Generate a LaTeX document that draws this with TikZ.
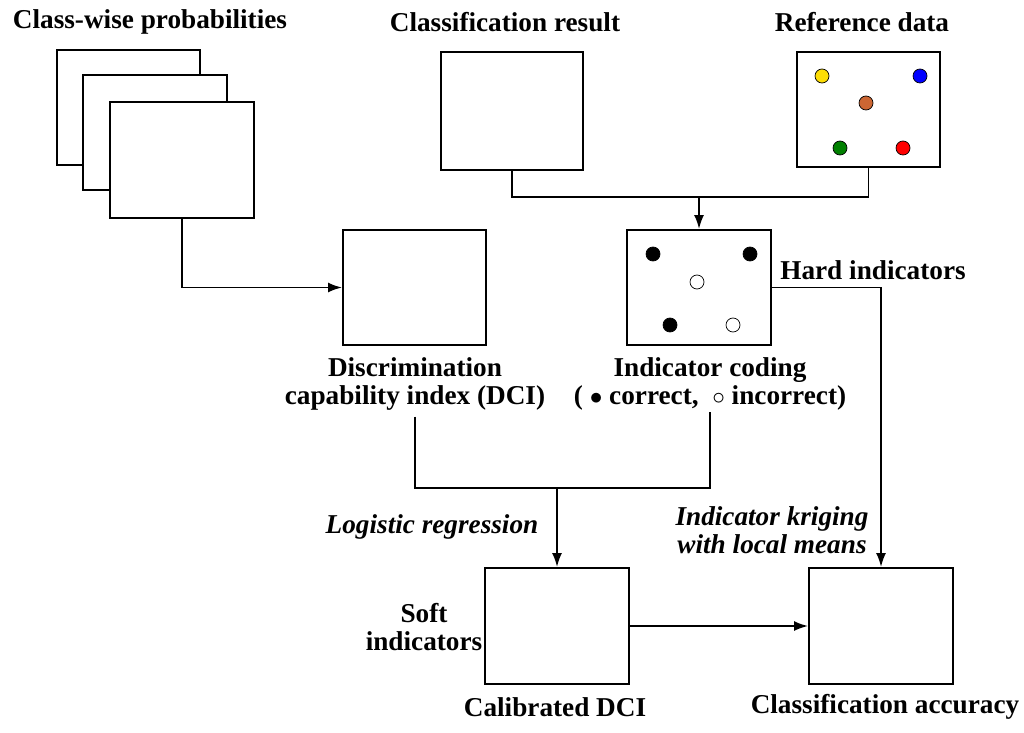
\documentclass[tikz,border=0pt]{standalone}
\usepackage{fontspec}
\setmainfont{Liberation Serif}
\usetikzlibrary{positioning, arrows.meta}
\tikzset{
  box/.style = {draw, line width=1.1pt, fill=white, inner sep=0pt},
  lbl/.style = {font=\fontsize{15.5}{16}\selectfont\bfseries, align=center},
  ilbl/.style = {font=\fontsize{15.5}{16}\selectfont\bfseries\itshape, align=center},
  dot/.style = {circle, draw, inner sep=0pt, minimum size=.28cm},
  arr/.style = {line width=1.1pt, -{Latex[length=.28cm, width=.2cm]}},
  ln/.style = {line width=1.1pt}
}
\begin{document}
\begin{tikzpicture}[x=.02cm, y=-.02cm]
		\useasboundingbox (0,0) rectangle (1024,733);
		% stacked probability maps
		\node [box, minimum width=2.86cm, minimum height=2.3cm] (p3) at (128.5,107.5) {};
		\node [box, minimum width=2.88cm, minimum height=2.3cm] (p2) at (155,132.5) {};
		\node [box, minimum width=2.88cm, minimum height=2.32cm] (p1) at (182,160) {};
		\node [lbl] (tp) at (150,22) {Class-wise probabilities};
		% inputs
		\node [box, minimum width=2.84cm, minimum height=2.36cm] (cr) at (512,111) {};
		\node [lbl] (tcr) at (505,22) {Classification result};
		\node [box, minimum width=2.86cm, minimum height=2.3cm] (rd) at (868.5,109.5) {};
		\node [lbl] (trd) at (862,22) {Reference data};
		\node [dot, fill=yellow!80!orange] (r1) at (822,76) {};
		\node [dot, fill=blue] (r2) at (920,76) {};
		\node [dot, fill=brown!80!red] (r3) at (866,103) {};
		\node [dot, fill=green!50!black] (r4) at (840,148) {};
		\node [dot, fill=red] (r5) at (903,148) {};
		% intermediate boxes
		\node [box, minimum width=2.86cm, minimum height=2.3cm] (dci) at (414.5,287.5) {};
		\node [lbl] (tdci) at (415,384) {Discrimination\\capability index (DCI)};
		\node [box, minimum width=2.88cm, minimum height=2.3cm] (ic) at (699,287.5) {};
		\node [lbl] (tic) at (710,384) {Indicator coding\\( $\bullet$ correct, \ $\circ$ incorrect)};
		\node [dot, fill=black] (i1) at (653,254) {};
		\node [dot, fill=black] (i2) at (750,254) {};
		\node [dot, fill=black] (i3) at (670,325) {};
		\node [dot, fill=white] (i4) at (697,282) {};
		\node [dot, fill=white] (i5) at (733,325) {};
		\node [lbl] (thi) at (873,270) {Hard indicators};
		% outputs
		\node [box, minimum width=2.88cm, minimum height=2.32cm] (cal) at (557,626) {};
		\node [lbl] (tcal) at (555,707) {Calibrated DCI};
		\node [lbl] (tsi) at (424,627) {Soft\\indicators};
		\node [box, minimum width=2.88cm, minimum height=2.32cm] (acc) at (881,626) {};
		\node [lbl] (tacc) at (885,707) {Classification accuracy};
		\node [ilbl] (tlr) at (432,527) {Logistic regression};
		\node [ilbl] (tik) at (772,530) {Indicator kriging\\with local means};
		% connectors
		\coordinate (j1) at (699,197);
		\coordinate (j2) at (557,488);
		\coordinate (j3) at (710,412);
		\draw [arr] (p1.south) |- (dci.west);
		\draw [ln] (cr.south) |- (j1) -| (rd.south);
		\draw [arr] (j1) -- (ic.north);
		\draw [arr] (ic.east) -| (acc.north);
		\draw [ln] (tdci.south) |- (j2) -| (j3);
		\draw [arr] (j2) -- (cal.north);
		\draw [arr] (cal.east) -- (acc.west);
\end{tikzpicture}
\end{document}
